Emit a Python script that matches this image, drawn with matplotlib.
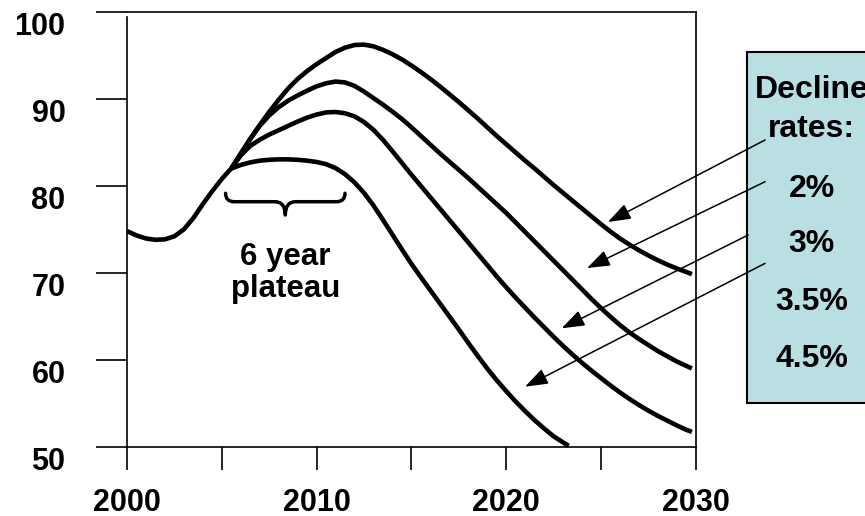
import matplotlib
matplotlib.use("Agg")
import matplotlib.pyplot as plt
from matplotlib.path import Path
from matplotlib.patches import PathPatch, Rectangle

plt.rcParams['font.family'] = ['Liberation Sans', 'DejaVu Sans']
plt.rcParams['font.weight'] = 'bold'

# ---------------- data ----------------
base_years = [2000, 2000.5, 2001, 2001.5, 2002, 2002.5, 2003, 2003.5, 2004, 2004.5, 2005, 2005.5]
base_values = [74.8, 74.3, 73.95, 73.8, 73.85, 74.2, 75.0, 76.3, 77.9, 79.4, 80.8, 82.0]

decline_years = [2005.5, 2006, 2006.5, 2007, 2007.5, 2008, 2008.5, 2009, 2009.5, 2010,
                 2010.5, 2011, 2011.5, 2012, 2012.5, 2013, 2013.5, 2014, 2014.5, 2015,
                 2015.5, 2016, 2016.5, 2017, 2017.5, 2018, 2018.5, 2019, 2019.5, 2020,
                 2020.5, 2021, 2021.5, 2022, 2022.5, 2023, 2023.5, 2024, 2024.5, 2025,
                 2025.5, 2026, 2026.5, 2027, 2027.5, 2028, 2028.5, 2029, 2029.5, 2029.8]

decline_2 = [82.0, 83.7, 85.4, 87.0, 88.5, 89.9, 91.2, 92.3, 93.2, 94.0,
             94.7, 95.4, 95.9, 96.2, 96.25, 96.05, 95.65, 95.15, 94.55, 93.85,
             93.1, 92.3, 91.45, 90.55, 89.65, 88.7, 87.75, 86.75, 85.75, 84.8,
             83.85, 82.9, 82.0, 81.05, 80.1, 79.2, 78.3, 77.4, 76.5, 75.6,
             74.75, 73.95, 73.25, 72.6, 72.0, 71.45, 70.95, 70.5, 70.1, 69.85]

decline_3 = [82.0, 83.7, 85.4, 86.9, 88.1, 89.05, 89.8, 90.4, 90.95, 91.45,
             91.8, 92.0, 91.9, 91.5, 90.85, 90.1, 89.35, 88.55, 87.7, 86.75,
             85.75, 84.75, 83.75, 82.8, 81.85, 80.9, 79.9, 78.9, 77.9, 76.9,
             75.8, 74.7, 73.6, 72.5, 71.4, 70.3, 69.2, 68.1, 67.0, 65.95,
             64.95, 64.0, 63.15, 62.4, 61.7, 61.0, 60.4, 59.8, 59.3, 59.0]

decline_35 = [82.0, 83.5, 84.6, 85.3, 85.9, 86.4, 86.9, 87.4, 87.85, 88.2,
              88.45, 88.5, 88.35, 88.0, 87.35, 86.45, 85.3, 84.0, 82.65, 81.3,
              80.0, 78.7, 77.4, 76.1, 74.8, 73.5, 72.2, 70.9, 69.6, 68.35,
              67.15, 66.0, 64.85, 63.75, 62.65, 61.6, 60.6, 59.65, 58.75, 57.9,
              57.05, 56.25, 55.5, 54.8, 54.15, 53.55, 53.0, 52.45, 51.95, 51.7]

decline_45_years = decline_years[:36] + [2023.3]
decline_45 = [82.0, 82.4, 82.7, 82.9, 83.0, 83.05, 83.05, 83.0, 82.9, 82.75,
              82.5, 82.05, 81.35, 80.4, 79.2, 77.75, 76.1, 74.4, 72.7, 71.05,
              69.5, 68.0, 66.5, 65.0, 63.5, 61.95, 60.45, 59.0, 57.65, 56.4,
              55.2, 54.1, 53.05, 52.1, 51.2, 50.5, 50.1]

x_ticks = [2000, 2005, 2010, 2015, 2020, 2025, 2030]
x_tick_labels = ['2000', '', '2010', '', '2020', '', '2030']
y_ticks = [50, 60, 70, 80, 90, 100]
y_tick_labels = ['50', '60', '70', '80', '90', '100']

legend_title = ['Decline', 'rates:']
rate_labels = ['2%', '3%', '3.5%', '4.5%']

# annotation anchors (data coordinates)
arrow_tails = [(2033.66, 85.28), (2033.66, 80.48), (2032.77, 74.35), (2033.66, 71.09)]
arrow_tips = [(2025.37, 75.85), (2024.27, 70.55), (2022.93, 63.62), (2021.0, 56.90)]
plateau_start, plateau_end = 2005.2, 2011.5

# ---------------- figure ----------------
W, H = 865, 516
fig = plt.figure(figsize=(W / 100, H / 100), dpi=100)
ax = fig.add_axes([127 / W, (H - 446.7) / H, (695.7 - 127) / W, (446.7 - 12) / H])
ax.set_xlim(2000, 2030)
ax.set_ylim(50, 100)

lw_curve = 3.3
line_kw = dict(color='black', lw=lw_curve, solid_joinstyle='round', solid_capstyle='butt')
ax.plot(base_years, base_values, **line_kw)
ax.plot(decline_years, decline_2, **line_kw)
ax.plot(decline_years, decline_3, **line_kw)
ax.plot(decline_years, decline_35, **line_kw)
ax.plot(decline_45_years, decline_45, clip_on=False, **line_kw)

# spines & ticks
for s in ax.spines.values():
    s.set_linewidth(1.2)
    s.set_color('black')
ax.spines['left'].set_bounds(50, 99.4)

ax.set_xticks(x_ticks)
ax.set_xticklabels(x_tick_labels)
ax.set_yticks(y_ticks)
ax.set_yticklabels(y_tick_labels)
ax.tick_params(axis='x', direction='out', length=16.5, width=1.2, pad=13, labelsize=22)
ax.tick_params(axis='y', direction='out', length=22.3, width=1.2, pad=22.0, labelsize=22)
for lab in ax.get_yticklabels():
    lab.set_verticalalignment('top')
for lab in ax.get_xticklabels() + ax.get_yticklabels():
    lab.set_fontweight('bold')

# brace for the plateau
ytop, ybar, ytip = 79.15, 78.18, 76.65
xm = (plateau_start + plateau_end) / 2
dxh, dxm = 0.45, 0.55
verts = [(plateau_start, ytop), (plateau_start, ybar), (plateau_start + dxh, ybar),
         (xm - dxm, ybar),
         (xm, ybar), (xm, ytip),
         (xm, ybar), (xm + dxm, ybar),
         (plateau_end - dxh, ybar),
         (plateau_end, ybar), (plateau_end, ytop)]
codes = [Path.MOVETO, Path.CURVE3, Path.CURVE3,
         Path.LINETO,
         Path.CURVE3, Path.CURVE3,
         Path.CURVE3, Path.CURVE3,
         Path.LINETO,
         Path.CURVE3, Path.CURVE3]
ax.add_patch(PathPatch(Path(verts, codes), fill=False, lw=2.5, color='black',
                       capstyle='round', joinstyle='round', clip_on=False))
ax.text(xm, 70.9, '6 year', ha='center', va='baseline', fontsize=22.5, fontweight='bold')
ax.text(xm, 67.25, 'plateau', ha='center', va='baseline', fontsize=22.5, fontweight='bold')

# legend box
box = Rectangle((2032.69, 55.0), 12, 40.43, facecolor='#B9DFE2', edgecolor='black',
                lw=1.5, clip_on=False, zorder=1)
ax.add_patch(box)
text_x = 2036.11
for txt, yb in zip(legend_title, [90.07, 85.66]):
    ax.text(text_x, yb, txt, ha='center', va='baseline', fontsize=23,
            fontweight='bold', clip_on=False, zorder=3)
for txt, yb in zip(rate_labels, [78.76, 72.43, 65.72, 59.2]):
    ax.text(text_x, yb, txt, ha='center', va='baseline', fontsize=23,
            fontweight='bold', clip_on=False, zorder=3)

# arrows
for tail, tip in zip(arrow_tails, arrow_tips):
    ax.annotate('', xy=tip, xytext=tail, annotation_clip=False,
                arrowprops=dict(arrowstyle='-|>,head_length=1.4,head_width=0.5',
                                mutation_scale=10, lw=1.1, color='black',
                                shrinkA=0, shrinkB=0), zorder=4)

fig.savefig('out.png', dpi=100)
